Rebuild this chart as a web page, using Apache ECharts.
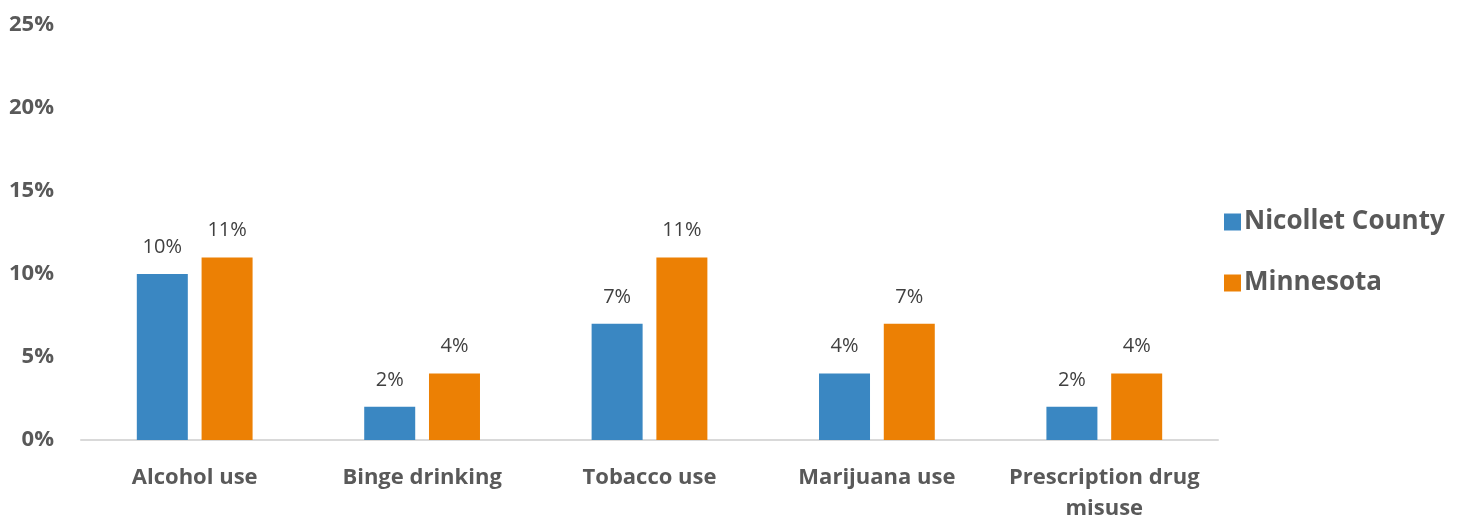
<!DOCTYPE html>
<html>
<head>
<meta charset="utf-8">
<script src="https://cdn.jsdelivr.net/npm/echarts@6/dist/echarts.min.js"></script>
<style>html,body{margin:0;padding:0;background:#fff}#c{width:1464px;height:516px}</style>
</head>
<body>
<div id="c"></div>
<script>
const categories = ["Alcohol use", "Binge drinking", "Tobacco use", "Marijuana use", "Prescription drug\nmisuse"];
const nicollet = [10, 2, 7, 4, 2];
const minnesota = [11, 4, 11, 7, 4];
const seriesNames = ["Nicollet County", "Minnesota"];
const FONT = "'Open Sans', 'Noto Sans', sans-serif";
const TEXT = '#595959';
const chart = echarts.init(document.getElementById('c'));
const labelCfg = {show: true, position: 'top', distance: 17, formatter: '{c}%', color: '#404040', fontSize: 20, fontFamily: FONT};
chart.setOption({
  animation: false,
  grid: {left: 81, right: 246, top: 25, bottom: 76, containLabel: false, outerBoundsMode: 'none'},
  legend: {
    orient: 'vertical', left: 1219, top: 204, itemWidth: 17, itemHeight: 17, itemGap: 35,
    icon: 'rect',
    textStyle: {color: TEXT, fontSize: 26, fontWeight: 'bold', fontFamily: FONT, padding: [0,0,0,-2]},
    data: seriesNames
  },
  xAxis: {
    type: 'category', data: categories,
    axisLine: {lineStyle: {color: '#D9D9D9', width: 2}},
    axisTick: {show: false},
    axisLabel: {color: TEXT, fontSize: 22, fontWeight: 'bold', fontFamily: FONT, margin: 22, lineHeight: 31, interval: 0}
  },
  yAxis: {
    type: 'value', min: 0, max: 25, interval: 5,
    splitLine: {show: false}, axisLine: {show: false}, axisTick: {show: false},
    axisLabel: {formatter: '{value}%', color: TEXT, fontSize: 22, fontWeight: 'bold', fontFamily: FONT, margin: 27}
  },
  series: [
    {name: seriesNames[0], type: 'bar', data: nicollet, barWidth: 51, barGap: '27%', itemStyle: {color: '#3A87C2'}, label: labelCfg},
    {name: seriesNames[1], type: 'bar', data: minnesota, barWidth: 51, itemStyle: {color: '#EC8004'}, label: labelCfg}
  ]
});
</script>
</body>
</html>
